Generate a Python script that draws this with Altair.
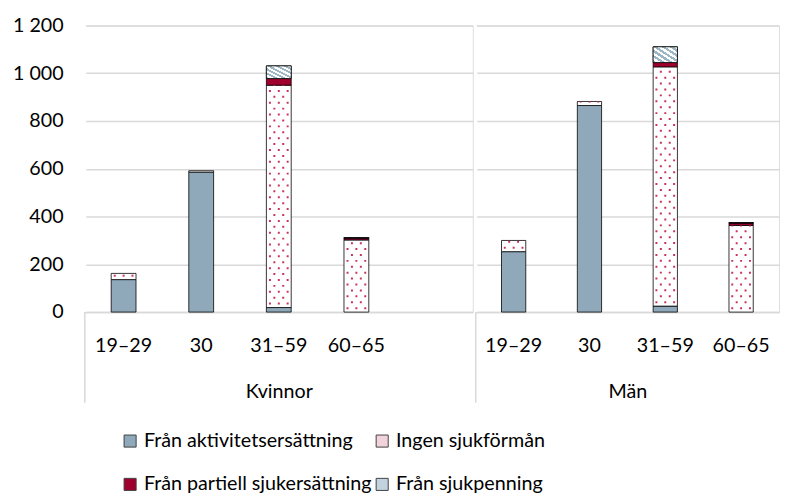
import altair as alt
import pandas as pd

FONT = "Lato"

genders = ["Kvinnor", "Män"]
ages_k = ["19–29", "30", "31–59", "60–65", ""]
ages_m = ["19–29", "30", "31–59", "60–65"]
ages = ["19–29", "30", "31–59", "60–65"]
series = ["Från aktivitetsersättning", "Ingen sjukförmån",
          "Från partiell sjukersättning", "Från sjukpenning"]
colors = ["#8FA9BA", "#F2D3DC", "#A0002E", "#C3D3DE"]

# values per age group (19–29, 30, 31–59, 60–65)
k_akt = [136, 586, 19, 0]
k_ingen = [26, 6, 931, 302]
k_part = [0, 0, 28, 8]
k_sjuk = [0, 0, 53, 2]

m_akt = [253, 865, 25, 0]
m_ingen = [47, 17, 1002, 363]
m_part = [0, 0, 18, 10]
m_sjuk = [0, 0, 66, 2]

rows = []
for g, vals in [("Kvinnor", [k_akt, k_ingen, k_part, k_sjuk]),
                ("Män", [m_akt, m_ingen, m_part, m_sjuk])]:
    for si, s in enumerate(series):
        for ai, a in enumerate(ages):
            rows.append({"gender": g, "age": a, "series": s, "order": si,
                         "value": vals[si][ai]})
df = pd.DataFrame(rows)

hatch = alt.LinearGradient(
    gradient="linear", x1=0, y1=1, x2=1, y2=0,
    stops=[alt.GradientStop(offset=o, color=c) for o, c in [
        (0.0, "#9DB6C6"), (0.08, "#9DB6C6"), (0.08, "#FFFFFF"), (0.17, "#FFFFFF"),
        (0.17, "#9DB6C6"), (0.25, "#9DB6C6"), (0.25, "#FFFFFF"), (0.33, "#FFFFFF"),
        (0.33, "#9DB6C6"), (0.42, "#9DB6C6"), (0.42, "#FFFFFF"), (0.5, "#FFFFFF"),
        (0.5, "#9DB6C6"), (0.58, "#9DB6C6"), (0.58, "#FFFFFF"), (0.67, "#FFFFFF"),
        (0.67, "#9DB6C6"), (0.75, "#9DB6C6"), (0.75, "#FFFFFF"), (0.83, "#FFFFFF"),
        (0.83, "#9DB6C6"), (0.92, "#9DB6C6"), (0.92, "#FFFFFF"), (1.0, "#FFFFFF"),
    ]])

PH = 291


def panel(gender, domain, width, first):
    base = alt.Chart(df).transform_filter(
        alt.datum.gender == gender
    ).transform_stack(
        stack="value", groupby=["gender", "age"], as_=["y0", "y1"],
        sort=[alt.SortField("order", order="ascending")]
    )
    xenc = alt.X("age:N", sort=domain,
                 scale=alt.Scale(domain=domain, paddingInner=0.68, paddingOuter=0.34),
                 axis=alt.Axis(title=gender, labelAngle=0, ticks=False, grid=False,
                               labelPadding=24, titlePadding=27,
                               domainColor="#D9D9D9", domainWidth=1.5,
                               labelFontSize=20, titleFontSize=20,
                               titleFontWeight="normal", labelColor="#000000",
                               titleColor="#000000", labelFont=FONT, titleFont=FONT))
    if first:
        yaxis = alt.Axis(title=None, values=[0, 200, 400, 600, 800, 1000, 1200],
                         labelExpr="replace(format(datum.value, ','), ',', ' ')",
                         domain=False, ticks=False, labelPadding=22,
                         gridColor="#D9D9D9", gridWidth=1.5,
                         labelFontSize=20, labelFont=FONT, labelColor="#000000")
    else:
        yaxis = alt.Axis(title=None, values=[0, 200, 400, 600, 800, 1000, 1200],
                         labels=False, domain=False, ticks=False,
                         gridColor="#D9D9D9", gridWidth=1.5)
    yenc = alt.Y("y0:Q", scale=alt.Scale(domain=[0, 1200]), axis=yaxis)

    # white cover for the stray vertical line at the panel's left edge
    mask = alt.Chart(alt.Data(values=[{"d": 1}])).mark_rule(
        color="#FFFFFF", strokeWidth=3
    ).encode(x=alt.value(0), y=alt.datum(1200), y2=alt.datum(0))

    bars = base.transform_filter(alt.datum.value > 0).mark_bar(
        stroke="#000000", strokeWidth=0.8
    ).encode(
        x=xenc, y=yenc, y2="y1:Q",
        fill=alt.condition(
            "datum.series === 'Ingen sjukförmån'",
            alt.value("#FFFFFF"),
            alt.Fill("series:N", scale=alt.Scale(domain=series, range=colors),
                     legend=alt.Legend(
                         title=None, orient="none", legendX=36, legendY=412,
                         direction="horizontal",
                         columns=2, symbolType="square", symbolSize=150,
                         symbolStrokeColor="#404040", symbolStrokeWidth=1,
                         labelFontSize=20, labelFont=FONT, labelColor="#000000",
                         rowPadding=24, columnPadding=0, labelLimit=400)),
        ),
    )
    hatched = base.transform_filter(
        (alt.datum.series == "Från sjukpenning") & (alt.datum.value > 0)
    ).mark_bar(fill=hatch, stroke="#000000", strokeWidth=0.8).encode(
        x=alt.X("age:N", sort=domain), y="y0:Q", y2="y1:Q")

    layers = [bars, hatched]
    for off, phase in [(-9, 0), (-4.5, 6), (0, 0), (4.5, 6), (9, 0)]:
        dots = base.transform_filter(
            (alt.datum.series == "Ingen sjukförmån") & (alt.datum.value > 0)
        ).mark_rule(
            xOffset=off, strokeDash=[2, 10], strokeDashOffset=phase - 3,
            strokeWidth=2, color="#C8325E", strokeCap="butt"
        ).encode(x=alt.X("age:N", sort=domain), y="y0:Q", y2="y1:Q")
        layers.append(dots)

    divider = alt.Chart(alt.Data(values=[{"d": 1}])).mark_rule(
        color="#D9D9D9", strokeWidth=1.5
    ).encode(x=alt.value(0), y=alt.datum(0), y2=alt.value(PH + 92))
    layers.append(divider)
    layers.append(mask)

    return alt.layer(*layers).properties(width=width, height=PH)


chart = alt.hconcat(
    panel("Kvinnor", ages_k, 394, True),
    panel("Män", ages_m, 308, False),
    spacing=0,
).resolve_scale(x="independent", y="shared", fill="shared").properties(
    padding={"left": 3, "top": 3, "right": 0, "bottom": 0}
).configure_view(strokeWidth=0, strokeOpacity=0, stroke="transparent").configure(
    font=FONT
).configure_axisY(domain=False, ticks=False).configure_axisX(grid=False)

chart.save("out.html", embed_options={"renderer": "svg", "actions": False})
